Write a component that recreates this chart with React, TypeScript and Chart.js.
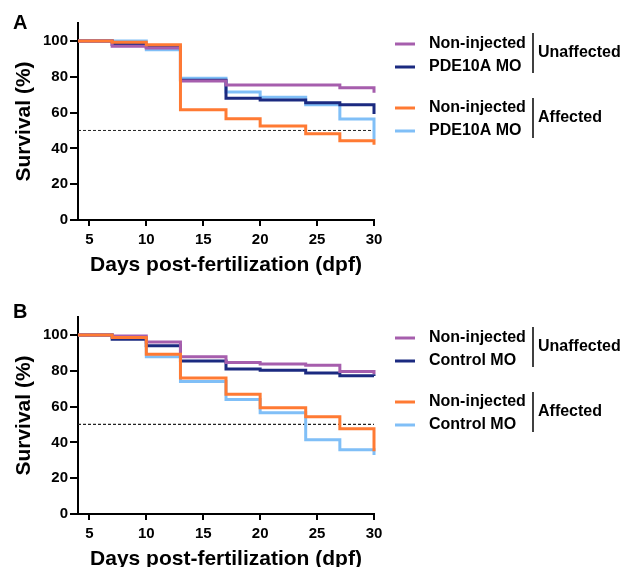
import React, { useEffect, useRef } from "react";
import { Chart, registerables } from "chart.js";

Chart.register(...registerables);

const FONT = "'Liberation Sans', Arial, Helvetica, sans-serif";

// ---- data ----
const days = [4, 7, 10, 13, 17, 20, 24, 27, 30];
const xTickValues = [5, 10, 15, 20, 25, 30];
const yTickValues = [0, 20, 40, 60, 80, 100];
const xMin = 4;
const xMax = 30;
const yMin = 0;
const yMax = 110;
const medianLevel = 50;

// Panel A
const aNonInjectedUnaffected = [100, 97, 96, 77.6, 75.4, 75.4, 75.4, 73.9, 71];
const aPde10aUnaffected = [100, 98, 96.4, 78, 68, 67, 65.5, 64.4, 59.2];
const aNonInjectedAffected = [100, 99.3, 97.8, 61.5, 56.6, 52.5, 48.2, 44.3, 42];
const aPde10aAffected = [100, 100, 95, 79.2, 71.5, 68.5, 64.4, 56.4, 45];

// Panel B
const bNonInjectedUnaffected = [100, 99.4, 96, 87.8, 84.6, 83.7, 83.1, 79.6, 78.2];
const bControlUnaffected = [100, 97.6, 94, 85.4, 80.9, 80.2, 78.7, 77.2, 77];
const bNonInjectedAffected = [100, 98.5, 89.2, 75.9, 66.9, 59.3, 54.3, 47.6, 35];
const bControlAffected = [100, 98.5, 87.8, 74, 63.9, 56.5, 41.5, 35.9, 33];

const aLegendLabels = ["Non-injected", "PDE10A MO", "Non-injected", "PDE10A MO"];
const bLegendLabels = ["Non-injected", "Control MO", "Non-injected", "Control MO"];
const groupLabels = ["Unaffected", "Affected"];
const xTitle = "Days post-fertilization (dpf)";
const yTitle = "Survival (%)";

const PURPLE = "#a65ead";
const NAVY = "#1b2a80";
const ORANGE = "#ff7a33";
const LIGHTBLUE = "#80bff7";
const legendColors = [PURPLE, NAVY, ORANGE, LIGHTBLUE];

type PanelProps = {
  letter: string;
  letterY: number;
  top: number;
  dashWidth: number;
  series: number[][]; // order: NI-unaffected, MO-unaffected, NI-affected, MO-affected
  legendLabels: string[];
};

function Panel({ letter, letterY, top, dashWidth, series, legendLabels }: PanelProps) {
  const ref = useRef<HTMLCanvasElement>(null);

  useEffect(() => {
    const canvas = ref.current;
    if (!canvas) return;
    const toPts = (vals: number[]) => days.map((d, i) => ({ x: d, y: vals[i] }));
    const mk = (vals: number[], color: string) => ({
      data: toPts(vals),
      borderColor: color,
      backgroundColor: color,
      borderWidth: 3,
      stepped: "before" as const,
      pointRadius: 0,
      fill: false,
      clip: 6,
    });
    // index 0 is drawn on top
    const datasets: any[] = [
      mk(series[2], ORANGE),
      mk(series[0], PURPLE),
      mk(series[1], NAVY),
      mk(series[3], LIGHTBLUE),
      {
        data: [
          { x: xMin, y: medianLevel },
          { x: xMax, y: medianLevel },
        ],
        borderColor: "#222",
        borderWidth: dashWidth,
        borderDash: [3, 2],
        pointRadius: 0,
        fill: false,
      },
    ];

    const legendPlugin = {
      id: "customLegend",
      afterDraw(chart: any) {
        const c = chart.ctx as CanvasRenderingContext2D;
        c.save();
        c.fillStyle = "#000";
        c.textBaseline = "middle";
        c.textAlign = "left";
        c.font = `bold 20px ${FONT}`;
        c.fillText(letter, 13, letterY);

        const rows = [44, 67, 108, 131];
        c.font = `bold 16px ${FONT}`;
        rows.forEach((y, i) => {
          c.strokeStyle = legendColors[i];
          c.lineWidth = 3;
          c.beginPath();
          c.moveTo(395, y);
          c.lineTo(415, y);
          c.stroke();
          c.fillStyle = "#000";
          c.fillText(legendLabels[i], 429, y);
        });
        const bars = [
          [33, 73],
          [98, 138],
        ];
        bars.forEach(([y1, y2], i) => {
          c.strokeStyle = "#000";
          c.lineWidth = 1.5;
          c.beginPath();
          c.moveTo(533, y1);
          c.lineTo(533, y2);
          c.stroke();
          c.fillText(groupLabels[i], 538, (y1 + y2) / 2);
        });
        c.restore();
      },
    };

    const tickFont = { family: FONT, size: 15, weight: "bold" as const };
    const titleFont = { family: FONT, size: 21, weight: "bold" as const, lineHeight: 1.2 };

    const chart = new Chart(canvas, {
      type: "line",
      data: { datasets },
      options: {
        responsive: false,
        animation: false,
        devicePixelRatio: 1,
        layout: { padding: { left: 0, top: 23, right: 247, bottom: 0 } },
        plugins: {
          legend: { display: false },
          tooltip: { enabled: false },
          title: { display: false },
        },
        elements: { point: { radius: 0 }, line: { tension: 0 } },
        scales: {
          x: {
            type: "linear",
            min: xMin,
            max: xMax,
            afterBuildTicks: (s: any) => {
              s.ticks = xTickValues.map((v) => ({ value: v }));
            },
            afterFit: (s: any) => {
              s.height = 74;
            },
            ticks: {
              font: tickFont,
              color: "#000",
              padding: 5,
              maxRotation: 0,
              autoSkip: false,
            },
            grid: {
              display: true,
              drawOnChartArea: false,
              drawTicks: true,
              tickLength: 6,
              color: "#000",
              lineWidth: 2,
            },
            border: { display: true, color: "#000", width: 2 },
            title: {
              display: true,
              text: xTitle,
              font: titleFont,
              color: "#000",
              padding: { top: 0, bottom: 16 },
            },
          },
          y: {
            type: "linear",
            min: yMin,
            max: yMax,
            afterBuildTicks: (s: any) => {
              s.ticks = yTickValues.map((v) => ({ value: v }));
            },
            afterFit: (s: any) => {
              s.width = 78;
            },
            ticks: {
              font: tickFont,
              color: "#000",
              padding: 2,
              autoSkip: false,
            },
            grid: {
              display: true,
              drawOnChartArea: false,
              drawTicks: true,
              tickLength: 8,
              color: "#000",
              lineWidth: 2,
            },
            border: { display: true, color: "#000", width: 2 },
            title: {
              display: true,
              text: yTitle,
              font: titleFont,
              color: "#000",
              padding: { top: 12, bottom: 0 },
            },
          },
        },
      } as any,
      plugins: [legendPlugin],
    });
    return () => chart.destroy();
  }, []);

  return (
    <canvas
      ref={ref}
      width={621}
      height={294}
      style={{ position: "absolute", left: 0, top, width: 621, height: 294, display: "block" }}
    />
  );
}

export default function App() {
  return (
    <div
      style={{
        position: "fixed",
        left: 0,
        top: 0,
        width: 621,
        height: 567,
        overflow: "hidden",
        background: "#fff",
      }}
    >
      <Panel
        letter="A"
        letterY={23}
        top={0}
        dashWidth={1}
        series={[aNonInjectedUnaffected, aPde10aUnaffected, aNonInjectedAffected, aPde10aAffected]}
        legendLabels={aLegendLabels}
      />
      <Panel
        letter="B"
        letterY={18}
        top={294}
        dashWidth={1.3}
        series={[bNonInjectedUnaffected, bControlUnaffected, bNonInjectedAffected, bControlAffected]}
        legendLabels={bLegendLabels}
      />
    </div>
  );
}
